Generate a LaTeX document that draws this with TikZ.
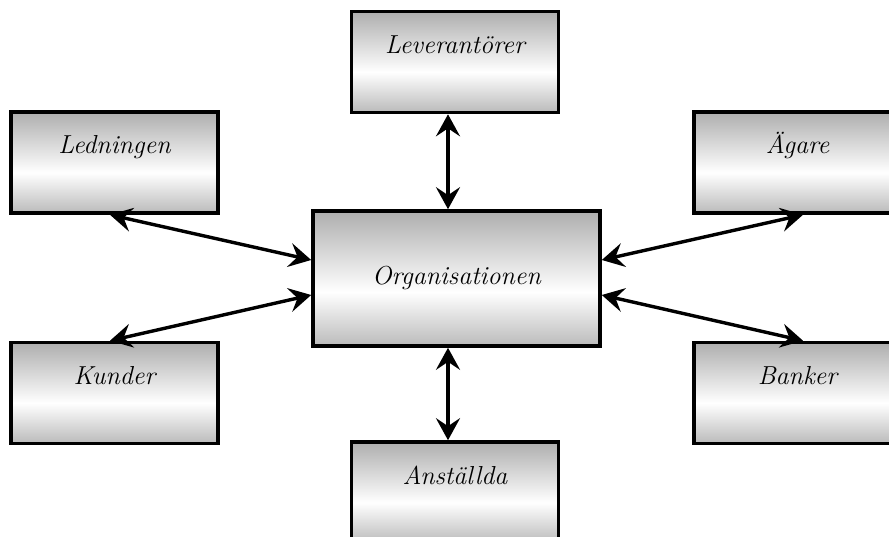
\documentclass[tikz,border=0pt]{standalone}
\usepackage{fontspec}
\usetikzlibrary{arrows.meta,calc}
\definecolor{boxgray}{HTML}{808080}
\pgfdeclareverticalshading{boxshade}{100bp}{color(0bp)=(boxgray); color(8bp)=(boxgray); color(45bp)=(white); color(92bp)=(boxgray); color(100bp)=(boxgray)}
\begin{document}
\begin{tikzpicture}[x=1pt,y=-1pt,
  box/.style={draw=black, line width=3.6pt, shading=boxshade, rectangle, inner sep=0pt,
    font=\fontsize{26}{30}\selectfont\itshape},
  small/.style={box, minimum width=207pt, minimum height=101pt, text height=18pt, text depth=35pt},
  big/.style={box, minimum width=287pt, minimum height=135pt},
  link/.style={line width=3.4pt, {Stealth[length=22pt,width=24pt,inset=8pt]}-{Stealth[length=22pt,width=24pt,inset=8pt]}}
]
\useasboundingbox (0,0) rectangle (889,537);
\node[big] (org) at (456.5,278.5) {Organisationen};
\node[small] (lev) at (455,62) {Leverantörer};
\node[small] (led) at (114.5,162.5) {Ledningen};
\node[small] (aga) at (797.5,162.5) {Ägare};
\node[small] (kun) at (114.5,393) {Kunder};
\node[small] (ban) at (797.5,393) {Banker};
\node[small] (ans) at (455,492.5) {Anställda};
\draw[link] ($(lev.south)+(-7,0)$) -- ($(org.north)+(-8.5,0)$);
\draw[link] ($(org.south)+(-8.5,0)$) -- ($(ans.north)+(-7,0)$);
\draw[link] ($(led.south)+(-4.5,0)$) -- ($(org.west)+(0,-18.5)$);
\draw[link] ($(kun.north)+(-4.5,0)$) -- ($(org.west)+(0,16.5)$);
\draw[link] ($(aga.south)+(5.5,0)$) -- ($(org.east)+(0,-18.5)$);
\draw[link] ($(ban.north)+(5.5,0)$) -- ($(org.east)+(0,16.5)$);
\end{tikzpicture}
\end{document}
